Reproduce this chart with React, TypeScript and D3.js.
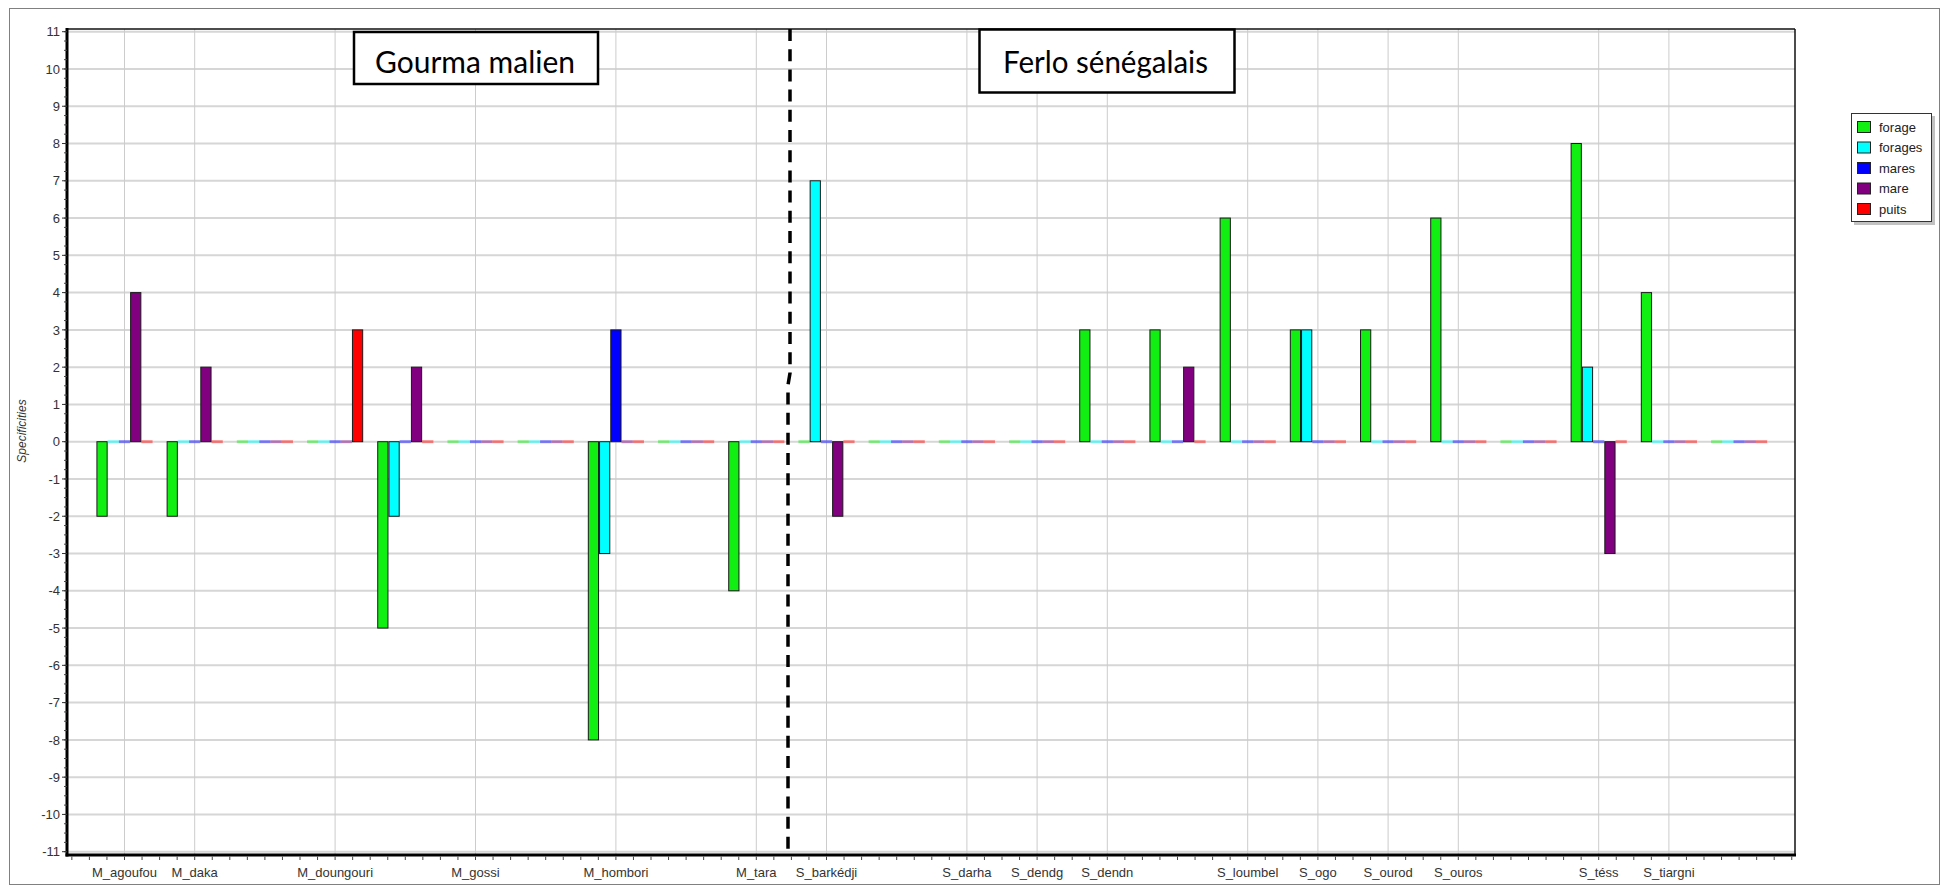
import React from 'react';
import * as d3 from 'd3';

// ---------- data ----------
const categories = [
  'M_agoufou', 'M_daka', '', 'M_doungouri', '', 'M_gossi', '', 'M_hombori', '', 'M_tara',
  'S_barkédji', '', 'S_darha', 'S_dendg', 'S_dendn', '', 'S_loumbel', 'S_ogo', 'S_ourod', 'S_ouros',
  '', 'S_téss', 'S_tiargni', '',
];
const seriesNames = ['forage', 'forages', 'mares', 'mare', 'puits'];
const seriesColors = ['#11ee11', '#00ffff', '#0000ff', '#800080', '#ff0000'];
const forage = [-2, -2, 0, 0, -5, 0, 0, -8, 0, -4, 0, 0, 0, 0, 3, 3, 6, 3, 3, 6, 0, 8, 4, 0];
const forages = [0, 0, 0, 0, -2, 0, 0, -3, 0, 0, 7, 0, 0, 0, 0, 0, 0, 3, 0, 0, 0, 2, 0, 0];
const mares = [0, 0, 0, 0, 0, 0, 0, 3, 0, 0, 0, 0, 0, 0, 0, 0, 0, 0, 0, 0, 0, 0, 0, 0];
const mare = [4, 2, 0, 0, 2, 0, 0, 0, 0, 0, -2, 0, 0, 0, 0, 2, 0, 0, 0, 0, 0, -3, 0, 0];
const puits = [0, 0, 0, 3, 0, 0, 0, 0, 0, 0, 0, 0, 0, 0, 0, 0, 0, 0, 0, 0, 0, 0, 0, 0];
const seriesValues = [forage, forages, mares, mare, puits];
const yTickValues = d3.range(-11, 12);
const regionLabels = ['Gourma malien', 'Ferlo sénégalais'];
const yAxisTitle = 'Specificities';

// ---------- layout ----------
const W = 1948;
const H = 892;
const plot = { left: 67, right: 1795, top: 29, bottom: 855 };
const FONT = '"Liberation Sans", Arial, sans-serif';

export default function App() {
  const idx = categories.map((_, i) => i);
  const x = d3.scaleBand<number>().domain(idx).range([89.4, 1774.2]).paddingInner(0.2).paddingOuter(0.1);
  const xs = d3.scaleBand<number>().domain(d3.range(seriesNames.length)).range([0, x.bandwidth()]).padding(0);
  const y = d3.scaleLinear().domain([-11, 11]).range([851.7, 31.7]);
  const y0 = y(0);
  const step = x.step();
  const center = (i: number) => (x(i) as number) + x.bandwidth() / 2;

  const minorX: number[] = [];
  for (let k = -3; k <= (categories.length - 1) * 4 + 3; k++) {
    const p = center(0) + (k * step) / 4;
    if (p > plot.left && p < plot.right) minorX.push(p);
  }
  const minorY = d3.range(-11, 11.01, 0.25);

  const legendRowY = (i: number) => 127 + i * 20.5;

  return (
    <svg width={W} height={H} style={{ position: 'absolute', left: 0, top: 0, background: '#fff' }}>
      <rect x={0} y={0} width={W} height={H} fill="#fff" />
      {/* outer border */}
      <rect x={9.5} y={8.5} width={1930} height={876} fill="none" stroke="#808080" strokeWidth={1} />

      {/* horizontal grid */}
      {yTickValues.map((v) => (
        <line key={'hg' + v} x1={plot.left} x2={plot.right} y1={y(v)} y2={y(v)} stroke="#d6d6d6" strokeWidth={2} />
      ))}
      {/* vertical grid at labelled categories */}
      {idx.filter((i) => categories[i] !== '').map((i) => (
        <line key={'vg' + i} x1={center(i)} x2={center(i)} y1={plot.top} y2={plot.bottom} stroke="#cccccc" strokeWidth={1} />
      ))}

      {/* bars */}
      {idx.map((i) =>
        seriesValues.map((vals, s) => {
          const v = vals[i];
          const bx = (x(i) as number) + (xs(s) as number);
          const bw = xs.bandwidth();
          if (v === 0) {
            return (
              <rect key={`z${i}-${s}`} x={bx} y={y0 - 1.5} width={bw} height={3} fill={seriesColors[s]} opacity={0.45} />
            );
          }
          const top = Math.min(y(v), y0);
          const h = Math.abs(y(v) - y0);
          return (
            <rect key={`b${i}-${s}`} x={bx + 0.5} y={top} width={bw - 1} height={h} fill={seriesColors[s]} stroke="#1a1a1a" strokeWidth={1} />
          );
        })
      )}

      {/* plot frame */}
      <line x1={plot.left} x2={plot.right} y1={plot.top} y2={plot.top} stroke="#111" strokeWidth={1.5} />
      <line x1={plot.right} x2={plot.right} y1={plot.top} y2={plot.bottom} stroke="#111" strokeWidth={1.5} />
      <line x1={plot.left} x2={plot.left} y1={plot.top - 1} y2={plot.bottom + 1.5} stroke="#000" strokeWidth={3} />
      <line x1={plot.left - 1.5} x2={plot.right + 1} y1={plot.bottom} y2={plot.bottom} stroke="#000" strokeWidth={3} />

      {/* y ticks */}
      {minorY.map((v, k) => (
        <line key={'my' + k} x1={plot.left - 3} x2={plot.left} y1={y(v)} y2={y(v)} stroke="#444" strokeWidth={1} />
      ))}
      {yTickValues.map((v) => (
        <g key={'yt' + v}>
          <line x1={plot.left - 5} x2={plot.left} y1={y(v)} y2={y(v)} stroke="#333" strokeWidth={1} />
          <text x={60} y={y(v)} dy="0.36em" textAnchor="end" fontFamily={FONT} fontSize={13} fill="#333">
            {v}
          </text>
        </g>
      ))}

      {/* x ticks */}
      {minorX.map((p, k) => (
        <line key={'mx' + k} x1={p} x2={p} y1={plot.bottom + 1.5} y2={plot.bottom + 5} stroke="#444" strokeWidth={1} />
      ))}
      {idx.filter((i) => categories[i] !== '').map((i) => (
        <text key={'xl' + i} x={center(i)} y={877} textAnchor="middle" fontFamily={FONT} fontSize={13} fill="#333">
          {categories[i]}
        </text>
      ))}

      {/* y axis title */}
      <text transform="translate(26,431) rotate(-90)" textAnchor="middle" fontFamily={FONT} fontSize={12} fontStyle="italic" fill="#333">
        {yAxisTitle}
      </text>

      {/* dashed divider */}
      <path d="M790,29 L790,373 L788,385 L788,855" fill="none" stroke="#000" strokeWidth={3.5} strokeDasharray="12 8.2" />

      {/* region boxes */}
      <rect x={354} y={32} width={244} height={52} fill="#fff" stroke="#000" strokeWidth={2.5} />
      <text x={475} y={73} textAnchor="middle" fontFamily="Lato, 'Open Sans', sans-serif" fontSize={30} textLength={200} lengthAdjust="spacingAndGlyphs" fill="#000">
        {regionLabels[0]}
      </text>
      <rect x={979.5} y={29.5} width={255} height={63} fill="#fff" stroke="#000" strokeWidth={2.5} />
      <text x={1105.5} y={73} textAnchor="middle" fontFamily="Lato, 'Open Sans', sans-serif" fontSize={30} textLength={205} lengthAdjust="spacingAndGlyphs" fill="#000">
        {regionLabels[1]}
      </text>

      {/* legend */}
      <rect x={1854} y={116} width={81} height={109} fill="#a8a8a8" opacity={0.7} />
      <rect x={1851.5} y={113.5} width={80} height={108} fill="#fff" stroke="#333" strokeWidth={1} />
      {seriesNames.map((n, i) => (
        <g key={'lg' + i}>
          <rect x={1857.5} y={legendRowY(i) - 5.5} width={13} height={11} fill={seriesColors[i]} stroke="#222" strokeWidth={1} />
          <text x={1879} y={legendRowY(i)} dy="0.36em" fontFamily={FONT} fontSize={13} fill="#222">
            {n}
          </text>
        </g>
      ))}
    </svg>
  );
}
